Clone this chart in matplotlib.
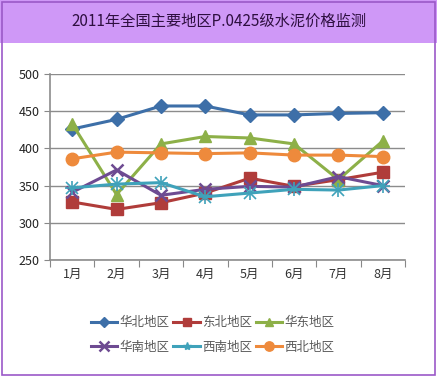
import matplotlib.pyplot as plt
from matplotlib.patches import Rectangle
from matplotlib.lines import Line2D
import numpy as np

plt.rcParams['font.family'] = ['Noto Sans CJK SC', 'DejaVu Sans']

months = ['1月', '2月', '3月', '4月', '5月', '6月', '7月', '8月']
huabei = [426, 439, 457, 457, 445, 445, 447, 448]
dongbei = [328, 318, 327, 340, 360, 349, 358, 368]
huadong = [433, 338, 406, 416, 414, 406, 358, 410]
huanan = [341, 371, 337, 345, 349, 348, 362, 350]
xinan = [347, 352, 354, 335, 340, 345, 344, 350]
xibei = [386, 395, 394, 393, 394, 391, 391, 389]

names = ['华北地区', '东北地区', '华东地区', '华南地区', '西南地区', '西北地区']
colors = ['#3D6FA8', '#B03C3A', '#8DB048', '#6E4B92', '#3FA2BA', '#EE8A3C']

fig = plt.figure(figsize=(4.37, 3.77), dpi=100)

# title band and border
fig.patches.append(Rectangle((0, 1 - 43 / 377), 1, 43 / 377, transform=fig.transFigure,
                             facecolor='#CF98F7', edgecolor='none', zorder=0))
fig.patches.append(Rectangle((0.004, 0.004), 0.991, 0.992, transform=fig.transFigure,
                             facecolor='none', edgecolor='#9B59C8', lw=1.2, zorder=5))
fig.text(0.5, 1 - 21 / 377, '2011年全国主要地区P.0425级水泥价格监测', ha='center', va='center',
         fontsize=11, color='#2E0F40')

ax = fig.add_axes([50 / 437, 1 - 260 / 377, 355 / 437, 186 / 377])
x = np.arange(len(months))
series = [huabei, dongbei, huadong, huanan, xinan, xibei]
markers = ['D', 's', '^', 'x', None, 'o']
sizes = [7, 8, 8, 9, 0, 9]
handles = []
for s, c, m, ms, nm in zip(series, colors, markers, sizes, names):
    if m is None:
        ax.plot(x, s, color=c, lw=2.2, zorder=3)
        ax.plot(x, s, ls='none', marker='x', ms=8, mew=1.2, color=c, zorder=4)
        ax.plot(x, s, ls='none', marker='|', ms=10, mew=1.2, color=c, zorder=4)
        ax.plot(x, s, ls='none', marker='_', ms=10, mew=1.2, color=c, zorder=4)
        h = Line2D([], [], color=c, lw=2.2, marker='*', ms=6)
    else:
        mew = 1.8 if m == 'x' else 1
        h = Line2D([], [], color=c, lw=2.2, marker=m, ms=ms * 0.75, mew=mew)
        ax.plot(x, s, color=c, lw=2.2, marker=m, ms=ms, mew=mew, zorder=3)
    handles.append(h)

ax.set_xlim(-0.5, 7.5)
ax.set_ylim(250, 500)
ax.set_yticks(range(250, 501, 50))
ax.set_xticks(np.arange(-0.5, 8, 1))
ax.set_xticklabels([])
ax.set_xticks(x, minor=True)
ax.set_xticklabels(months, minor=True, fontsize=9, color='#333333')
ax.tick_params(axis='x', which='minor', length=0, pad=6)
ax.tick_params(axis='x', which='major', length=5, color='#888888', direction='out')
ax.tick_params(axis='y', length=4, color='#888888', labelsize=9, labelcolor='#222222')
ax.grid(axis='y', color='#8C8C8C', lw=1)
ax.set_axisbelow(True)
for sp in ['top', 'right']:
    ax.spines[sp].set_visible(False)
for sp in ['left', 'bottom']:
    ax.spines[sp].set_color('#8C8C8C')
    ax.spines[sp].set_linewidth(1.2)

order = [0, 3, 1, 4, 2, 5]
leg = fig.legend([handles[i] for i in order], [names[i] for i in order], ncol=3,
                 loc='center', bbox_to_anchor=(0.487, 1 - 335 / 377), frameon=False,
                 fontsize=9, handlelength=2.1, handletextpad=0.2, columnspacing=0.3,
                 labelspacing=0.9)
for t in leg.get_texts():
    t.set_color('#595959')

fig.savefig('out.png', dpi=100)
